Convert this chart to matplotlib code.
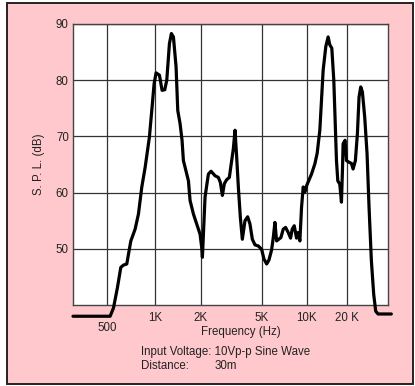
import numpy as np
import matplotlib
matplotlib.use('Agg')
import matplotlib.pyplot as plt
from matplotlib.patches import Rectangle

plt.rcParams['font.family'] = ['Liberation Sans', 'DejaVu Sans']

# Datos (frecuencia en Hz, nivel en dB)
freq = [305, 522, 548, 580, 609, 633, 664, 680, 704, 749, 786, 825, 866, 921, 953, 986,
        1015, 1068, 1112, 1158, 1194, 1243, 1281, 1321, 1375, 1411, 1461, 1506, 1537, 1577,
        1659, 1701, 1789, 1882, 1980,
        2030, 2051, 2134, 2244, 2336, 2481, 2608, 2687, 2770, 2854, 2956, 3076, 3186, 3267,
        3350, 3435, 3522, 3630, 3740, 3893, 4052, 4196, 4347, 4525, 4757,
        5000, 5180, 5400, 5593, 5825, 5977, 6129, 6290, 6718, 6964, 7217, 7517, 7790, 7991,
        8242, 8538, 8760, 8985, 9217, 9455, 9699, 9949,
        10835, 11473, 11944, 12503, 13241, 13862, 14428, 14846, 15368, 15905, 16272, 16654,
        17037, 17632, 18148, 18457, 18674, 19321, 19771,
        20697, 21541, 22173, 23071, 23886, 24570, 25292, 26033, 27096, 28207, 29190, 30380,
        31627, 32736, 34091, 42847]
spl = [38.0, 38.0, 39.5, 43.1, 46.7, 47.1, 47.3, 49.0, 51.4, 53.5, 56.2, 61.0, 64.5, 69.9, 74.6, 79.4,
       81.3, 80.9, 78.2, 78.3, 80.0, 86.5, 88.3, 87.7, 82.4, 74.6, 72.3, 69.3, 65.7, 64.5,
       62.1, 58.6, 56.2, 54.4, 52.6,
       50.2, 48.5, 59.2, 63.3, 63.8, 63.0, 62.7, 61.8, 59.5, 61.6, 62.3, 62.7, 65.7, 67.8,
       71.1, 66.3, 61.0, 55.6, 51.7, 55.0, 55.7, 54.4, 51.7, 50.7, 50.5,
       49.9, 48.2, 47.3, 48.0, 49.8, 52.0, 54.7, 51.4, 52.0, 53.5, 53.8, 52.9, 51.9, 53.5,
       54.1, 51.9, 52.9, 51.4, 57.4, 61.0, 60.1, 61.2,
       63.3, 65.1, 67.0, 71.1, 81.8, 86.0, 87.7, 86.3, 85.7, 80.0, 72.9, 65.7,
       62.1, 61.5, 58.3, 63.9, 68.7, 69.3, 65.7,
       65.4, 65.2, 64.2, 65.7, 70.5, 77.0, 78.8, 77.9, 73.4, 66.9, 57.4, 47.9,
       41.9, 38.9, 38.4, 38.4]

grid_freq = [500, 1000, 2000, 5000, 10000, 20000]
grid_labels = ['500', '1K', '2K', '5K', '10K', '20 K']
grid_pos = [107, 155, 200.7, 261.7, 307, 347.3]   # posición relativa de cada línea
y_ticks = [50, 60, 70, 80, 90]

# Escala de frecuencia del gráfico original (casi logarítmica, por tramos)
lg = np.log10(grid_freq)
pos = np.array(grid_pos)
sl = (pos[1] - pos[0]) / (lg[1] - lg[0])
sr = (pos[-1] - pos[-2]) / (lg[-1] - lg[-2])


def fwd(f):
    lf = np.log10(np.clip(f, 1e-3, None))
    out = np.interp(lf, lg, pos)
    out = np.where(lf < lg[0], pos[0] + (lf - lg[0]) * sl, out)
    out = np.where(lf > lg[-1], pos[-1] + (lf - lg[-1]) * sr, out)
    return out


def inv(p):
    p = np.asarray(p, dtype=float)
    lf = np.interp(p, pos, lg)
    lf = np.where(p < pos[0], lg[0] + (p - pos[0]) / sl, lf)
    lf = np.where(p > pos[-1], lg[-1] + (p - pos[-1]) / sr, lf)
    return 10 ** lf


W, H = 415, 386
fig = plt.figure(figsize=(W / 100, H / 100), dpi=100)
fig.patch.set_facecolor('white')
fig.patches.append(Rectangle((7 / W, 1 - 384 / H), 406 / W, 381 / H, transform=fig.transFigure,
                             facecolor='#ffc8cc', edgecolor='#222222', lw=1.4, zorder=-10))

ax = fig.add_axes([73 / W, 1 - 305 / H, 315 / W, 281 / H])
ax.set_facecolor('white')
ax.set_xscale('function', functions=(fwd, inv))
ax.set_xlim(305, 40460)
ax.set_ylim(40, 90)

ax.plot(freq, spl, color='black', lw=2.3, solid_joinstyle='round', solid_capstyle='round',
        clip_on=False, zorder=5)

ax.set_xticks(grid_freq)
ax.set_xticklabels(grid_labels)
ax.xaxis.set_minor_locator(plt.NullLocator())
ax.set_yticks(y_ticks)
ax.grid(True, color='#333333', lw=0.9)
ax.tick_params(length=0, labelsize=8.3, colors='#222222')
ax.tick_params(axis='x', pad=5)
ax.tick_params(axis='y', pad=3)
ax.xaxis.get_major_ticks()[0].set_pad(12)
for s in ax.spines.values():
    s.set_color('#444444')
    s.set_linewidth(1.0)

ax.set_ylabel('S. P. L. (dB)', fontsize=8.3, color='#222222', labelpad=8)
fig.text(241 / W, 1 - 332 / H, 'Frequency (Hz)', ha='center', va='center', fontsize=8.3, color='#222222')
fig.text(141 / W, 1 - 352 / H, 'Input Voltage: 10Vp-p Sine Wave', ha='left', va='center',
         fontsize=8.3, color='#222222')
fig.text(141 / W, 1 - 366 / H, 'Distance:', ha='left', va='center', fontsize=8.3, color='#222222')
fig.text(215 / W, 1 - 366 / H, '30m', ha='left', va='center', fontsize=8.3, color='#222222')

fig.savefig('out.png', dpi=100)
